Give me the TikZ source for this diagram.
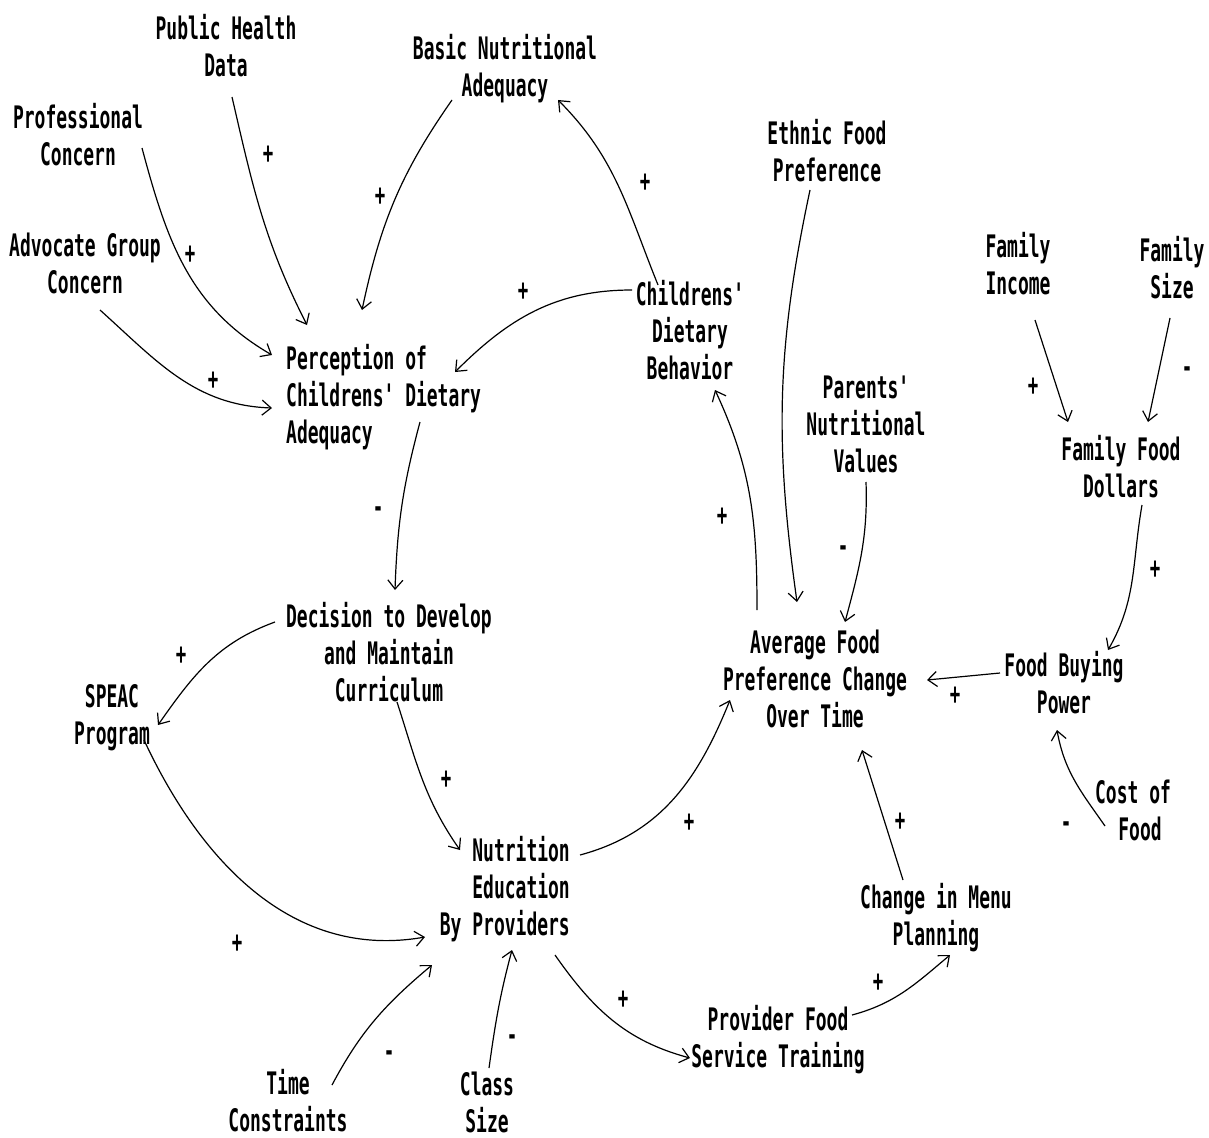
\documentclass[tikz,border=0pt]{standalone}
\usepackage{fontspec}
\newfontfamily\diagfont[FakeStretch=0.58]{DejaVu Sans Mono Bold}
\usetikzlibrary{arrows.meta,calc}

\begin{document}
\begin{tikzpicture}[x=1pt,y=-1pt,
  font=\diagfont\fontsize{31}{37}\selectfont,
  var/.style={align=center, inner sep=0pt},
  sgn/.style={font=\diagfont\fontsize{30}{30}\selectfont, inner sep=0pt},
  arr/.style={line width=1.2pt, -{Straight Barb[length=9pt,width=15pt]}}]
\useasboundingbox (0,0) rectangle (1209,1137);

% variables
\node[var] (pub)     at (226,46)   {Public Health\\Data};
\node[var] (prof)    at (78,135)   {Professional\\Concern};
\node[var] (adv)     at (85,263)   {Advocate Group\\Concern};
\node[var] (basic)   at (505,69)   {Basic Nutritional\\Adequacy};
\node[var] (ethnic)  at (827,151)  {Ethnic Food\\Preference};
\node[var] (child)   at (690,330)  {Childrens'\\Dietary\\Behavior};
\node[var, align=left, anchor=west] (perc) at (286,397) {Perception of\\Childrens' Dietary\\Adequacy};
\node[var] (income)  at (1018,264) {Family\\Income};
\node[var] (size)    at (1172,268) {Family\\Size};
\node[var] (parents) at (866,424)  {Parents'\\Nutritional\\Values};
\node[var] (dollars) at (1121,467) {Family Food\\Dollars};
\node[var] (dec)     at (389,652)  {Decision to Develop\\and Maintain\\Curriculum};
\node[var] (speac)   at (112,718)  {SPEAC\\Program};
\node[var] (avg)     at (815,679)  {Average Food\\Preference Change\\Over Time};
\node[var] (buying)  at (1064,683) {Food Buying\\Power};
\node[var] (cost)    at (1133,810) {Cost of\\\hspace*{14pt}Food};
\node[var, align=right, anchor=east] (nut) at (570,889) {Nutrition\\Education\\By Providers};
\node[var] (menu)    at (936,918)  {Change in Menu\\Planning};
\node[var] (prov)    at (778,1040) {Provider Food\\Service Training};
\node[var] (time)    at (288,1101) {Time\\Constraints};
\node[var] (class)   at (487,1102) {Class\\Size};

% causal links
\draw[arr] ($(pub)+(6,51)$)       to[out=-77,in=117]  ($(perc.west)+(21,-72)$);
\draw[arr] ($(prof)+(64,13)$)     to[out=-75,in=150]  ($(perc.west)+(-14,-42)$);
\draw[arr] ($(adv)+(15,47)$)      to[out=-42,in=178]  ($(perc.west)+(-14,11)$);
\draw[arr] ($(basic)+(-53,31)$)   to[out=-125,in=78]  ($(perc.west)+(76,-87)$);
\draw[arr] ($(child)+(-32,-45)$)  to[out=112,in=-45]  ($(basic)+(53,31)$);
\draw[arr] ($(child)+(-58,-40)$)  to[out=180,in=45]   ($(perc.west)+(169,-25)$);
\draw[arr] ($(perc.west)+(134,25)$) to[out=-105,in=88] ($(dec)+(6,-62)$);
\draw[arr] ($(dec)+(-114,-30)$)   to[out=200,in=55]   ($(speac)+(46,7)$);
\draw[arr] ($(dec)+(8,50)$)       to[out=-72,in=125]  ($(nut.east)+(-110,-39)$);
\draw[arr] ($(speac)+(32,22)$)    to[out=-65,in=190]  ($(nut.east)+(-145,48)$);
\draw[arr] ($(time)+(44,-16)$)    to[out=62,in=-140]  ($(nut.east)+(-138,76)$);
\draw[arr] ($(class)+(2,-34)$)    to[out=82,in=-105]  ($(nut.east)+(-58,61)$);
\draw[arr] ($(nut.east)+(10,-34)$) to[out=15,in=-112] ($(avg)+(-85,21)$);
\draw[arr] ($(nut.east)+(-15,66)$) to[out=-55,in=165] ($(prov)+(-88,18)$);
\draw[arr] ($(prov)+(74,-25)$)    to[out=15,in=-140]  ($(menu)+(14,37)$);
\draw[arr] ($(menu)+(-33,-38)$)   --                  ($(avg)+(47,71)$);
\draw[arr] ($(avg)+(-58,-69)$)    to[out=90,in=-65]   ($(child)+(25,60)$);
\draw[arr] ($(ethnic)+(-17,39)$)  to[out=-102,in=98]  ($(avg)+(-18,-77)$);
\draw[arr] ($(parents)+(0,58)$)   to[out=-88,in=75]   ($(avg)+(30,-57)$);
\draw[arr] ($(income)+(17,56)$)   --                  ($(dollars)+(-53,-45)$);
\draw[arr] ($(size)+(-2,50)$)     --                  ($(dollars)+(27,-45)$);
\draw[arr] ($(dollars)+(21,38)$)  to[out=-100,in=60]  ($(buying)+(44,-33)$);
\draw[arr] ($(buying)+(-64,-10)$) --                  ($(avg)+(112,1)$);
\draw[arr] ($(cost)+(-28,16)$)    to[out=125,in=-80]  ($(buying)+(-7,47)$);

% link polarities
\node[sgn] (s1)  at (268,155)  {+};
\node[sgn] (s2)  at (190,255)  {+};
\node[sgn] (s3)  at (213,381)  {+};
\node[sgn] (s4)  at (380,197)  {+};
\node[sgn] (s5)  at (645,183)  {+};
\node[sgn] (s6)  at (523,292)  {+};
\node[sgn] (s7)  at (378,512)  {-};
\node[sgn] (s8)  at (181,656)  {+};
\node[sgn] (s9)  at (446,780)  {+};
\node[sgn] (s10) at (237,944)  {+};
\node[sgn] (s11) at (389,1056) {-};
\node[sgn] (s12) at (512,1040) {-};
\node[sgn] (s13) at (689,823)  {+};
\node[sgn] (s14) at (623,1000) {+};
\node[sgn] (s15) at (878,983)  {+};
\node[sgn] (s16) at (900,822)  {+};
\node[sgn] (s17) at (722,517)  {+};
\node[sgn] (s18) at (843,551)  {-};
\node[sgn] (s19) at (1033,387) {+};
\node[sgn] (s20) at (1187,372) {-};
\node[sgn] (s21) at (1155,570) {+};
\node[sgn] (s22) at (955,696)  {+};
\node[sgn] (s23) at (1066,827) {-};
\end{tikzpicture}
\end{document}
